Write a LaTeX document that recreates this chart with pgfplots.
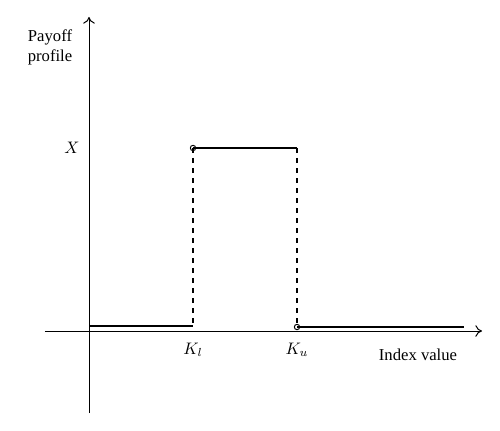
\documentclass[border=0pt]{standalone}
\usepackage{pgfplots}
\pgfplotsset{compat=1.18}
\usepackage{fontspec}
\setmainfont{Liberation Serif}
\usetikzlibrary{arrows.meta}
\begin{document}
\begin{tikzpicture}
\begin{axis}[
  x=0.6pt, y=0.6pt,
  xmin=-44, xmax=393, ymin=-82, ymax=314,
  axis lines=middle,
  axis line style={line width=0.6pt},
  x axis line style={-{To[length=4pt,width=7pt]}},
  y axis line style={-{To[length=4pt,width=7pt]}},
  xtick=\empty, ytick=\empty,
  clip=false,
]
% full picture extent
\path (axis cs:-89,-99) rectangle (axis cs:411,331);

% payoff: low, high, low
\addplot[black, line width=1pt] coordinates {(0,5) (104,5)};
\addplot[black, line width=1pt] coordinates {(104,183) (208,183)};
\addplot[black, line width=1pt] coordinates {(208,4) (375,4)};

% jumps at the strikes
\addplot[black, line width=0.7pt, dashed] coordinates {(104,183) (104,5)};
\addplot[black, line width=0.7pt, dashed] coordinates {(208,183) (208,4)};

% open ends
\addplot[only marks, mark=o, mark size=1.6pt, mark options={fill=white, line width=0.6pt}]
  coordinates {(104,183) (208,4)};

\node at (axis cs:104,-19) {$K_l$};
\node at (axis cs:208,-19) {$K_u$};
\node at (axis cs:-17,183) {$X$};
\node at (axis cs:329,-24) {Index value};
\node[align=center, inner sep=0pt] at (axis cs:-39,284) {Payoff\\profile};
\end{axis}
\end{tikzpicture}
\end{document}
